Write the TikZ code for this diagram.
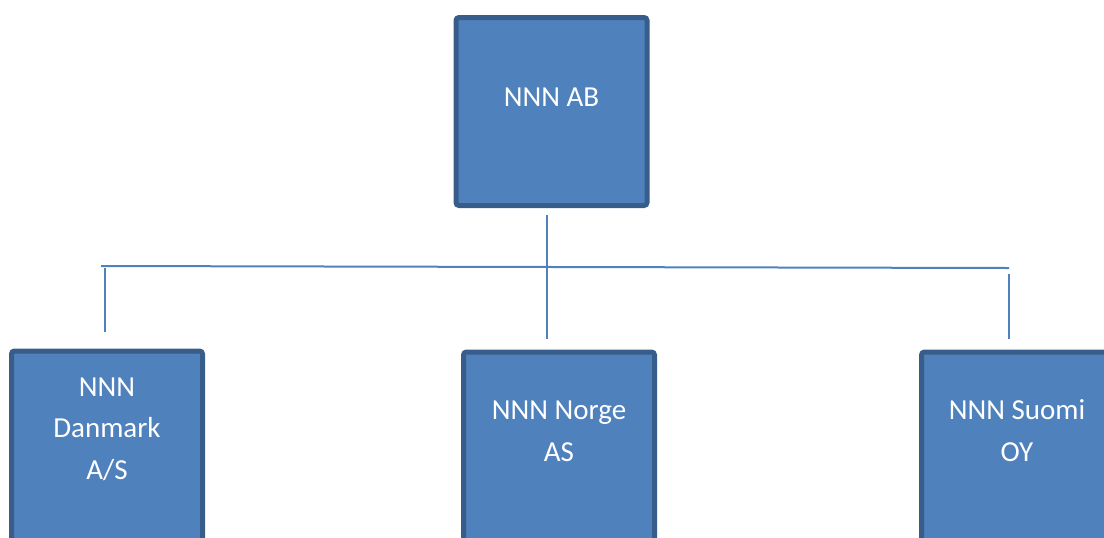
\documentclass[tikz,border=0pt]{standalone}
\usepackage{fontspec}
\setmainfont{Carlito}
\definecolor{boxfill}{HTML}{4F81BD}
\definecolor{boxline}{HTML}{385D8A}
\tikzset{
  company/.style={draw=boxline, fill=boxfill, line width=2.5pt, rounded corners=1.5pt,
    minimum width=95.5pt, minimum height=94pt, inner sep=0pt},
  subsidiary/.style={company, minimum height=110pt},
  coname/.style={text=white, align=center, anchor=base, inner sep=0pt,
    font=\fontsize{14.5pt}{20.75pt}\selectfont},
  link/.style={draw=boxfill, line width=1pt}
}
\begin{document}
\begin{tikzpicture}[x=0.5pt, y=-0.5pt]
\useasboundingbox (0,0) rectangle (1104,537);
\clip (0,0) rectangle (1104,537);
% companies
\node at (551.5, 111.5) [company] (ab) {};
\node at (107, 348.5) [subsidiary, anchor=north] (dk) {};
\node at (559, 349.5) [subsidiary, anchor=north] (no) {};
\node at (1017, 349.5) [subsidiary, anchor=north] (fi) {};
% names (anchored at the baseline of the last line)
\node at (551.5, 106) [coname] (abname) {NNN AB};
\node at (107, 479) [coname] (dkname) {NNN\\Danmark\\A/S};
\node at (559, 461) [coname] (noname) {NNN Norge\\AS};
\node at (1017, 461) [coname] (finame) {NNN Suomi\\OY};
% tree lines
\coordinate (stem) at (547, 215);
\coordinate (cross) at (547, 339);
\coordinate (barl) at (101, 266);
\coordinate (barr) at (1009, 268);
\coordinate (dktop) at (105, 268);
\coordinate (dkend) at (105, 332);
\coordinate (fitop) at (1009, 274);
\coordinate (fiend) at (1009, 339);
\draw [link] (stem) to (cross);
\draw [link] (barl) to (barr);
\draw [link] (dktop) to (dkend);
\draw [link] (fitop) to (fiend);
\end{tikzpicture}
\end{document}
